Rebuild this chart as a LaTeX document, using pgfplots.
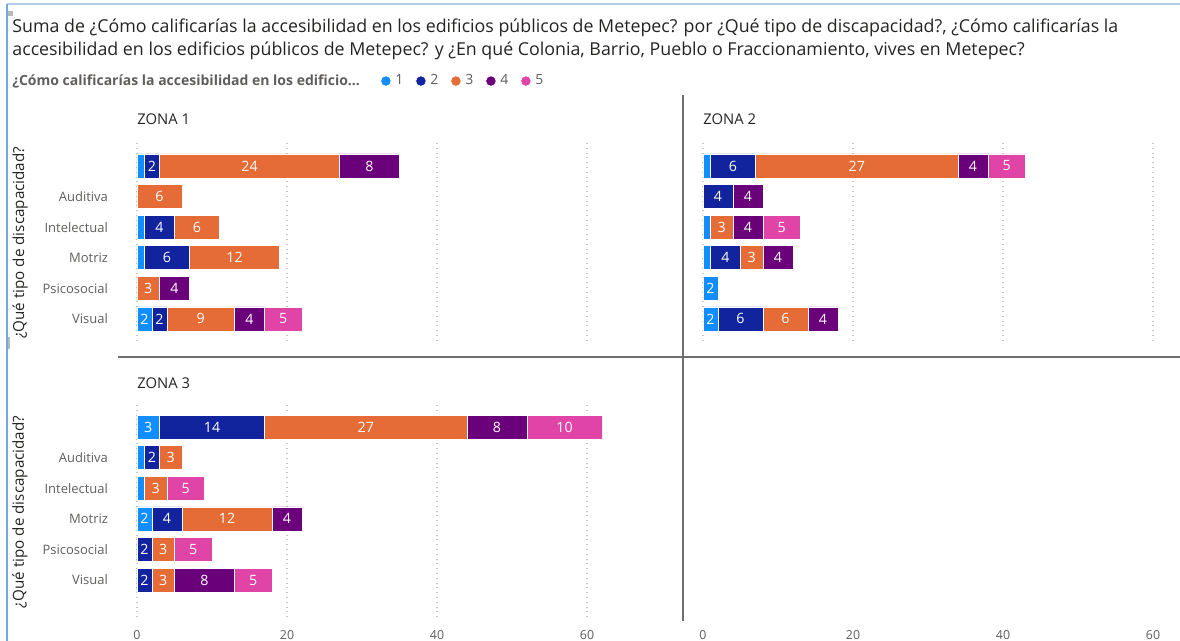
\documentclass[border=0pt]{standalone}
\usepackage{pgfplots}
\pgfplotsset{compat=1.18}
\usepackage{pgfplotstable}
\usepackage{fontspec}
\setmainfont{Open Sans}

\definecolor{c1}{HTML}{118DFF}
\definecolor{c2}{HTML}{12239E}
\definecolor{c3}{HTML}{E66C37}
\definecolor{c4}{HTML}{6B007B}
\definecolor{c5}{HTML}{E044A7}
\definecolor{txt}{HTML}{252423}
\definecolor{lab}{HTML}{605E5C}
\definecolor{gridc}{HTML}{C8C6C4}
\definecolor{sepc}{HTML}{6E6E6E}

% rows: 0 = (blank), 1 Auditiva, 2 Intelectual, 3 Motriz, 4 Psicosocial, 5 Visual
\pgfplotstableread{
row v1 v2 v3 v4 v5
0 1 2 24 8 0
1 0 0 6 0 0
2 1 4 6 0 0
3 1 6 12 0 0
4 0 0 3 4 0
5 2 2 9 4 5
}\zonaA
\pgfplotstableread{
row v1 v2 v3 v4 v5
0 1 6 27 4 5
1 0 4 0 4 0
2 1 0 3 4 5
3 1 4 3 4 0
4 2 0 0 0 0
5 2 6 6 4 0
}\zonaB
\pgfplotstableread{
row v1 v2 v3 v4 v5
0 3 14 27 8 10
1 1 2 3 0 0
2 1 0 3 0 5
3 2 4 12 4 0
4 0 2 3 0 5
5 0 2 3 8 5
}\zonaC

\pgfplotsset{
  zone/.style={
    scale only axis, width=232.5pt,
    xbar stacked, bar width=12pt,
    y dir=reverse,
    xmin=0, xmax=62,
    xtick={0,20,40,60},
    xmajorgrids, grid style={gridc, dotted, line width=0.6pt},
    axis line style={draw=none},
    major tick length=0pt,
    ytick={0,...,5},
    yticklabels={{},Auditiva,Intelectual,Motriz,Psicosocial,Visual},
    yticklabel style={text=lab, font=\fontsize{6.5}{7}\selectfont, xshift=-11pt},
    xticklabel={\pgfmathprintnumber[assume math mode=true]{\tick}},
    xticklabel style={text=lab, font=\fontsize{6.2}{7}\selectfont, yshift=-2.2pt},
    title style={anchor=west, inner sep=0pt, text=txt, font=\fontsize{7.4}{8}\selectfont},
    ylabel style={anchor=center, text=txt, font=\fontsize{7.6}{8}\selectfont},
    visualization depends on=rawx\as\rawx,
    nodes near coords={\ifdim\rawx pt<1.5pt\else\pgfmathprintnumber[assume math mode=true]{\rawx}\fi},
    every node near coord/.append style={anchor=center,
      text=white, font=\fontsize{7.1}{8}\selectfont},
    legend image code/.code={\fill (2.6pt,0pt) circle (2.6pt);},
  },
  seg/.style={fill=#1, draw=white, line width=0.3pt},
}

\begin{document}
\begin{tikzpicture}
\path[use as bounding box] (0,0) rectangle (590pt,320.5pt);

% ZONA 1
\begin{axis}[zone, at={(68.5pt,249pt)}, anchor=north west,
  height=99.9pt, ymin=-0.75, ymax=5.78,
  xticklabel style={opacity=0},
  title={ZONA 1}, title style={at={(axis description cs:0,1.06)}},
  ylabel={¿Qué tipo de discapacidad?},
  ylabel style={at={(axis description cs:-0.2516,0.5)}},
  legend columns=-1,
  legend style={at={(axis description cs:0.5226,1.31)}, anchor=west,
    draw=none, fill=none, inner sep=0pt, text=lab,
    font=\fontsize{7}{8}\selectfont,
    /tikz/every even column/.append style={column sep=4pt}},
]
\addplot[seg=c1] table[x=v1,y=row]{\zonaA};
\addplot[seg=c2] table[x=v2,y=row]{\zonaA};
\addplot[seg=c3] table[x=v3,y=row]{\zonaA};
\addplot[seg=c4] table[x=v4,y=row]{\zonaA};
\addplot[seg=c5] table[x=v5,y=row]{\zonaA};
\legend{1,2,3,4,5}
\end{axis}

% ZONA 2
\begin{axis}[zone, at={(351.5pt,249pt)}, anchor=north west,
  height=99.9pt, ymin=-0.75, ymax=5.78,
  xticklabel style={opacity=0}, ytick=\empty,
  title={ZONA 2}, title style={at={(axis description cs:0,1.06)}},
]
\addplot[seg=c1] table[x=v1,y=row]{\zonaB};
\addplot[seg=c2] table[x=v2,y=row]{\zonaB};
\addplot[seg=c3] table[x=v3,y=row]{\zonaB};
\addplot[seg=c4] table[x=v4,y=row]{\zonaB};
\addplot[seg=c5] table[x=v5,y=row]{\zonaB};
\end{axis}

% ZONA 3
\begin{axis}[zone, at={(68.5pt,118pt)}, anchor=north west,
  height=106.95pt, ymin=-0.72, ymax=6.27,
  title={ZONA 3}, title style={at={(axis description cs:0,1.047)}},
  ylabel={¿Qué tipo de discapacidad?},
  ylabel style={at={(axis description cs:-0.2516,0.5)}},
]
\addplot[seg=c1] table[x=v1,y=row]{\zonaC};
\addplot[seg=c2] table[x=v2,y=row]{\zonaC};
\addplot[seg=c3] table[x=v3,y=row]{\zonaC};
\addplot[seg=c4] table[x=v4,y=row]{\zonaC};
\addplot[seg=c5] table[x=v5,y=row]{\zonaC};
\end{axis}

% empty cell, only the x ticks of the right column
\begin{axis}[zone, at={(351.5pt,118pt)}, anchor=north west,
  height=106.95pt, ymin=-0.72, ymax=6.27,
  xmajorgrids=false, ytick=\empty,
]
\end{axis}

% separators and frame
\draw[sepc, line width=0.75pt] (341.5pt,273pt) -- (341.5pt,10pt);
\draw[sepc, line width=0.75pt] (59pt,142pt) -- (590pt,142pt);
\draw[color={rgb,255:red,180;green,205;blue,232}, line width=0.8pt] (3.5pt,318.5pt) -- (590pt,318.5pt);
\draw[color={rgb,255:red,111;green,168;blue,220}, line width=0.8pt] (3.5pt,0pt) -- (3.5pt,318.5pt);
\fill[gray!55] (4pt,312.5pt) rectangle (6.5pt,315pt);
\fill[gray!55] (4pt,146pt) rectangle (5.2pt,152pt);

% heading
\node[anchor=west, inner sep=0pt, text=txt, font=\fontsize{8.9}{10}\selectfont] at (6pt,306.5pt)
  {Suma de ¿Cómo calificarías la accesibilidad en los edificios públicos de Metepec? por ¿Qué tipo de discapacidad?, ¿Cómo calificarías la};
\node[anchor=west, inner sep=0pt, text=txt, font=\fontsize{8.9}{10}\selectfont] at (6pt,295pt)
  {accesibilidad en los edificios públicos de Metepec? y ¿En qué Colonia, Barrio, Pueblo o Fraccionamiento, vives en Metepec?};
\node[anchor=west, inner sep=0pt, text=lab, font=\bfseries\fontsize{7}{8}\selectfont] at (6pt,280pt)
  {¿Cómo calificarías la accesibilidad en los edificio...};
\end{tikzpicture}
\end{document}
